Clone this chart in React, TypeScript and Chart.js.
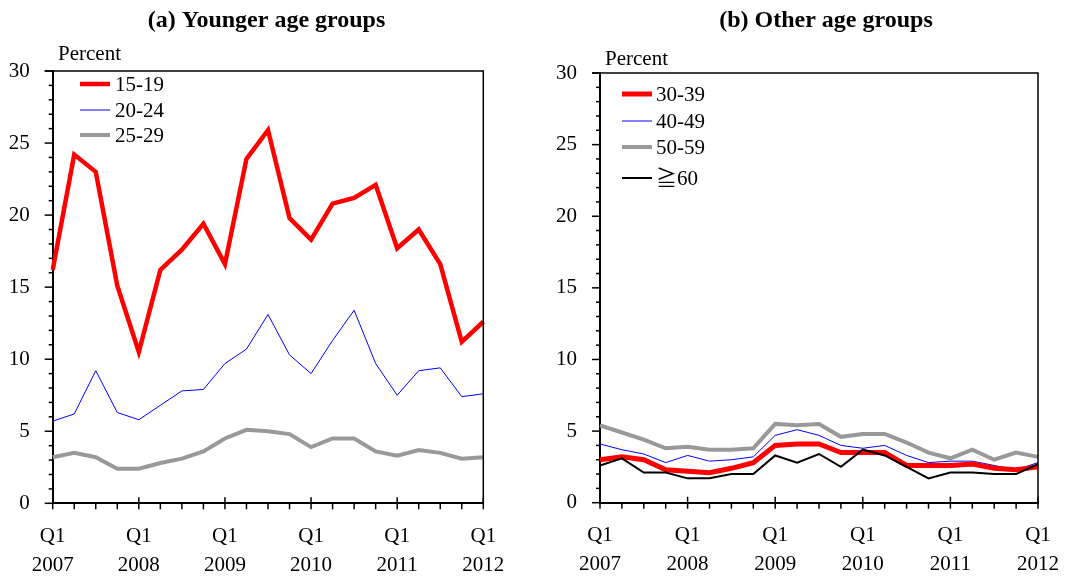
import React, { useEffect, useRef } from 'react';
import { Chart, registerables } from 'chart.js';

Chart.register(...registerables);

// ---------- data ----------
const categories = [
  '2007Q1', '2007Q2', '2007Q3', '2007Q4',
  '2008Q1', '2008Q2', '2008Q3', '2008Q4',
  '2009Q1', '2009Q2', '2009Q3', '2009Q4',
  '2010Q1', '2010Q2', '2010Q3', '2010Q4',
  '2011Q1', '2011Q2', '2011Q3', '2011Q4',
  '2012Q1',
];

const yTicks = [0, 5, 10, 15, 20, 25, 30];

const age15_19 = [16.2, 24.2, 23.0, 15.1, 10.5, 16.2, 17.6, 19.4, 16.6, 23.9, 25.9, 19.8, 18.3, 20.8, 21.2, 22.1, 17.7, 19.0, 16.6, 11.2, 12.6];
const age20_24 = [5.7, 6.2, 9.2, 6.3, 5.8, 6.8, 7.8, 7.9, 9.7, 10.7, 13.1, 10.3, 9.0, 11.3, 13.4, 9.7, 7.5, 9.2, 9.4, 7.4, 7.6];
const age25_29 = [3.2, 3.5, 3.2, 2.4, 2.4, 2.8, 3.1, 3.6, 4.5, 5.1, 5.0, 4.8, 3.9, 4.5, 4.5, 3.6, 3.3, 3.7, 3.5, 3.1, 3.2];

const age30_39 = [3.0, 3.2, 3.0, 2.3, 2.2, 2.1, 2.4, 2.8, 4.0, 4.1, 4.1, 3.5, 3.5, 3.5, 2.6, 2.6, 2.6, 2.7, 2.4, 2.3, 2.5];
const age40_49 = [4.1, 3.7, 3.4, 2.8, 3.3, 2.9, 3.0, 3.2, 4.7, 5.1, 4.7, 4.0, 3.8, 4.0, 3.3, 2.8, 2.9, 2.9, 2.6, 2.3, 2.8];
const age50_59 = [5.4, 4.9, 4.4, 3.8, 3.9, 3.7, 3.7, 3.8, 5.5, 5.4, 5.5, 4.6, 4.8, 4.8, 4.2, 3.5, 3.1, 3.7, 3.0, 3.5, 3.2];
const age60plus = [2.6, 3.1, 2.1, 2.1, 1.7, 1.7, 2.0, 2.0, 3.3, 2.8, 3.4, 2.5, 3.7, 3.3, 2.5, 1.7, 2.1, 2.1, 2.0, 2.0, 2.7];

const seriesLabelsA = ['15-19', '20-24', '25-29'];
const seriesLabelsB = ['30-39', '40-49', '50-59', '\u226760'];

const titleA = '(a) Younger age groups';
const titleB = '(b) Other age groups';
const unitLabel = 'Percent';

// ---------- styling ----------
const SERIF = "'Liberation Serif', 'Times New Roman', 'Noto Sans CJK JP', serif";
const RED = '#ff0000';
const BLUE = '#0000ff';
const GRAY = '#999999';
const BLACK = '#000000';

type Geo = {
  width: number;
  height: number;
  plotLeft: number;
  plotRight: number;
  plotTop: number;
  plotBottom: number;
  titleX: number;
  titleY: number;
  percentX: number;
  percentY: number;
  legendLineX: number;
  legendTextX: number;
  legendYs: number[];
};

function decorPlugin(title: string, geo: Geo) {
  return {
    id: 'decor',
    afterDraw(chart: any) {
      const ctx = chart.ctx as CanvasRenderingContext2D;
      const area = chart.chartArea;
      const xs = chart.scales.x;
      const ys = chart.scales.y;
      ctx.save();
      ctx.strokeStyle = '#000';
      ctx.lineWidth = 1.5;
      // frame: top and right
      ctx.beginPath();
      ctx.moveTo(area.left - 8, area.top);
      ctx.lineTo(area.right, area.top);
      ctx.lineTo(area.right, area.bottom);
      ctx.stroke();
      // y ticks (major + minor)
      for (let v = 0; v <= 30; v++) {
        const y = ys.getPixelForValue(v);
        const len = v % 5 === 0 ? 8 : 4;
        ctx.beginPath();
        ctx.moveTo(area.left - len, y);
        ctx.lineTo(area.left, y);
        ctx.stroke();
      }
      // x ticks
      for (let i = 0; i < categories.length; i++) {
        const x = xs.getPixelForValue(i);
        const major = categories[i].endsWith('Q1');
        ctx.beginPath();
        ctx.moveTo(x, area.bottom - (major ? 6 : 0));
        ctx.lineTo(x, area.bottom + 6);
        ctx.stroke();
      }
      // title
      ctx.fillStyle = '#000';
      ctx.font = `bold 24px ${SERIF}`;
      ctx.textAlign = 'center';
      ctx.textBaseline = 'middle';
      ctx.fillText(title, geo.titleX, geo.titleY);
      // unit label
      ctx.font = `21px ${SERIF}`;
      ctx.textAlign = 'left';
      ctx.fillText(unitLabel, geo.percentX, geo.percentY);
      // legend
      const dsets = chart.data.datasets;
      dsets.forEach((ds: any, i: number) => {
        const y = geo.legendYs[i];
        ctx.strokeStyle = ds.borderColor;
        ctx.lineWidth = ds.borderWidth;
        ctx.beginPath();
        ctx.moveTo(geo.legendLineX, y);
        ctx.lineTo(geo.legendLineX + 30, y);
        ctx.stroke();
        ctx.fillStyle = '#000';
        ctx.font = `21px ${SERIF}`;
        ctx.textAlign = 'left';
        ctx.textBaseline = 'middle';
        ctx.fillText(ds.label, geo.legendTextX, y + 1);
      });
      ctx.restore();
    },
  };
}

function makeConfig(title: string, geo: Geo, datasets: any[]) {
  return {
    type: 'line',
    data: { labels: categories, datasets },
    options: {
      responsive: false,
      animation: false,
      devicePixelRatio: 1,
      layout: {
        padding: {
          left: 0,
          right: geo.width - geo.plotRight,
          top: geo.plotTop,
          bottom: 0,
        },
      },
      plugins: {
        legend: { display: false },
        tooltip: { enabled: false },
        title: { display: false },
      },
      elements: { point: { radius: 0 }, line: { tension: 0 } },
      scales: {
        x: {
          type: 'category',
          offset: false,
          grid: { display: false, drawTicks: false },
          border: { display: true, color: '#000', width: 2 },
          afterFit: (scale: any) => {
            scale.height = geo.height - geo.plotBottom;
          },
          ticks: {
            autoSkip: false,
            maxRotation: 0,
            minRotation: 0,
            padding: 18,
            color: '#000',
            font: { family: SERIF, size: 21, lineHeight: 1.4 },
            callback: (_v: any, idx: number) => {
              const c = categories[idx];
              return c.endsWith('Q1') ? ['Q1', c.slice(0, 4)] : '';
            },
          },
        },
        y: {
          type: 'linear',
          min: 0,
          max: 30,
          grid: { display: false, drawTicks: false },
          border: { display: true, color: '#000', width: 2 },
          afterFit: (scale: any) => {
            scale.width = geo.plotLeft;
          },
          afterBuildTicks: (scale: any) => {
            scale.ticks = yTicks.map((v) => ({ value: v }));
          },
          ticks: {
            padding: 23,
            color: '#000',
            font: { family: SERIF, size: 21 },
          },
        },
      },
    },
    plugins: [decorPlugin(title, geo)],
  };
}

const geoA: Geo = {
  width: 540,
  height: 577,
  plotLeft: 52.7,
  plotRight: 483.3,
  plotTop: 71,
  plotBottom: 503.3,
  titleX: 266.5,
  titleY: 21,
  percentX: 58,
  percentY: 54,
  legendLineX: 80,
  legendTextX: 115,
  legendYs: [84, 110, 135],
};

const geoB: Geo = {
  width: 537,
  height: 577,
  plotLeft: 60,
  plotRight: 511.5,
  plotTop: 73,
  plotBottom: 502.7,
  titleX: 286,
  titleY: 21,
  percentX: 65,
  percentY: 59,
  legendLineX: 82,
  legendTextX: 116,
  legendYs: [94, 121, 147, 178],
};

function ChartPanel({ config, left, width, height }: any) {
  const ref = useRef<HTMLCanvasElement>(null);
  useEffect(() => {
    if (!ref.current) return;
    const chart = new Chart(ref.current, config);
    return () => chart.destroy();
  }, []);
  return (
    <canvas
      ref={ref}
      width={width}
      height={height}
      style={{ position: 'absolute', left, top: 0, width, height, display: 'block' }}
    />
  );
}

export default function App() {
  const dsA = [
    { label: seriesLabelsA[0], data: age15_19, borderColor: RED, backgroundColor: RED, borderWidth: 4.5, order: 0 },
    { label: seriesLabelsA[1], data: age20_24, borderColor: BLUE, backgroundColor: BLUE, borderWidth: 1, order: 1 },
    { label: seriesLabelsA[2], data: age25_29, borderColor: GRAY, backgroundColor: GRAY, borderWidth: 4, order: 2 },
  ];
  const dsB = [
    { label: seriesLabelsB[0], data: age30_39, borderColor: RED, backgroundColor: RED, borderWidth: 5, order: 1 },
    { label: seriesLabelsB[1], data: age40_49, borderColor: BLUE, backgroundColor: BLUE, borderWidth: 1, order: 2 },
    { label: seriesLabelsB[2], data: age50_59, borderColor: GRAY, backgroundColor: GRAY, borderWidth: 4, order: 3 },
    { label: seriesLabelsB[3], data: age60plus, borderColor: BLACK, backgroundColor: BLACK, borderWidth: 2, order: 0 },
  ];
  const cfgA = makeConfig(titleA, geoA, dsA);
  const cfgB = makeConfig(titleB, geoB, dsB);
  return (
    <div style={{ position: 'absolute', left: 0, top: 0, width: 1077, height: 577, background: '#fff' }}>
      <ChartPanel config={cfgA} left={0} width={540} height={577} />
      <ChartPanel config={cfgB} left={540} width={537} height={577} />
    </div>
  );
}
